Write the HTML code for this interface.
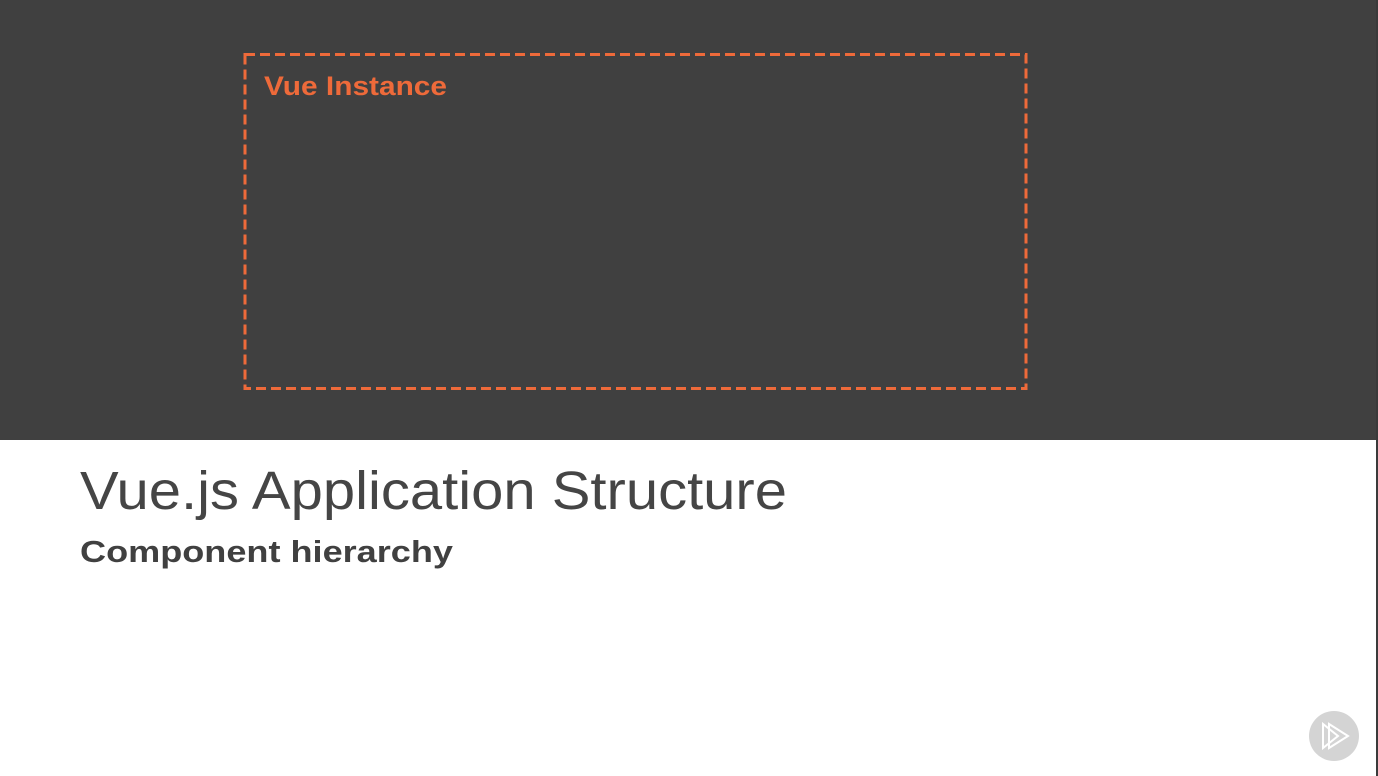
<!DOCTYPE html>
<html><head><meta charset="utf-8"><style>
html,body{margin:0;padding:0;width:1378px;height:776px;overflow:hidden;background:#fff;}
</style></head><body>
<svg width="1378" height="776" xmlns="http://www.w3.org/2000/svg" style="display:block">
<rect x="0" y="0" width="1378" height="440" fill="#404040"/>
<rect x="1376" y="0" width="2" height="776" fill="#3a3a3a"/>
<rect x="245" y="54.5" width="781" height="334" fill="none" stroke="#ee6a3a" stroke-width="3" stroke-dasharray="10,5"/>
<text x="264" y="95" font-family="Liberation Sans, sans-serif" font-weight="bold" font-size="27" fill="#ee6a3a" textLength="183" lengthAdjust="spacingAndGlyphs">Vue Instance</text>
<text x="80" y="509" font-family="Liberation Sans, sans-serif" font-size="54" fill="#454545" textLength="707" lengthAdjust="spacingAndGlyphs">Vue.js Application Structure</text>
<text x="80" y="562" font-family="Liberation Sans, sans-serif" font-weight="bold" font-size="31" fill="#404040" textLength="373" lengthAdjust="spacingAndGlyphs">Component hierarchy</text>
<circle cx="1334" cy="736" r="25" fill="#d4d4d4"/>
<polygon points="1323,724 1323,748 1338,736" fill="none" stroke="#fff" stroke-width="2"/>
<polygon points="1329,724 1329,748 1348,736" fill="none" stroke="#fff" stroke-width="2"/>
</svg>
</body></html>
